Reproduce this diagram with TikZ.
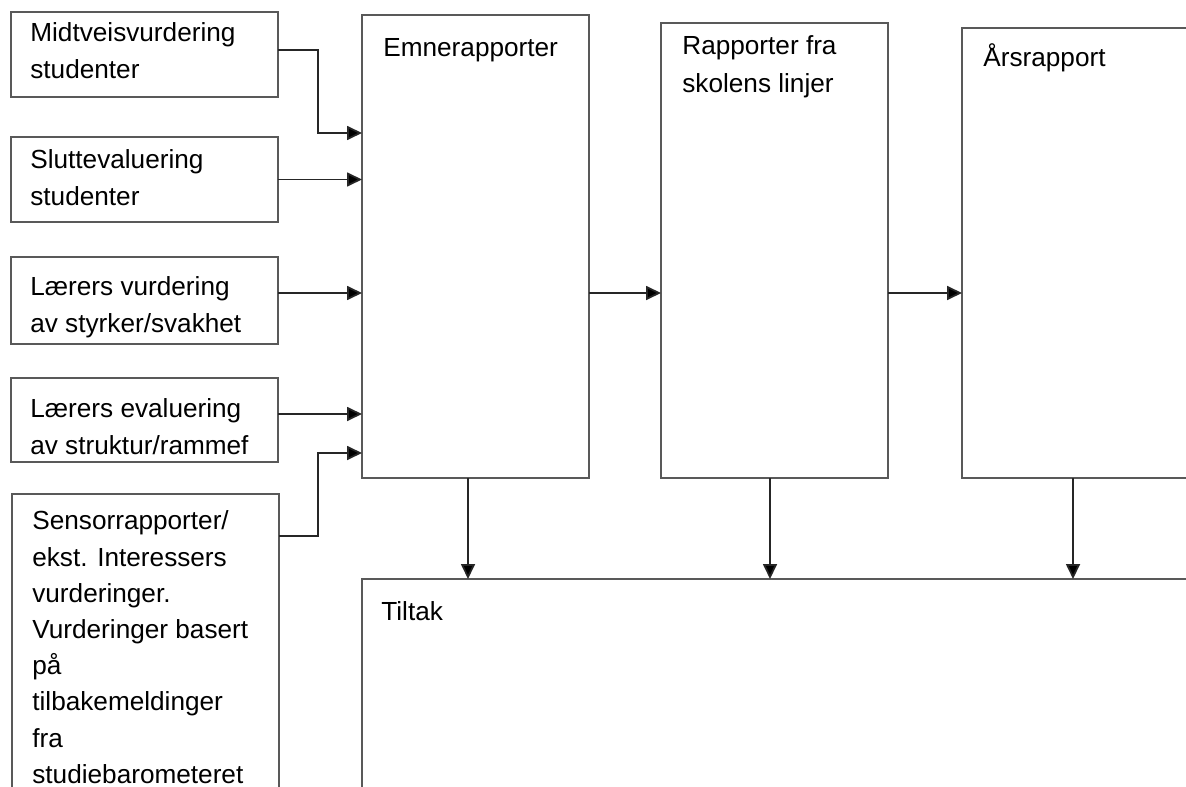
\documentclass[tikz,border=0pt]{standalone}
\usepackage{fontspec}
\setmainfont{Liberation Sans}
\usepackage{tikz}
\usetikzlibrary{arrows.meta,calc}
\tikzset{
	box/.style={
			draw=black!65, line width=0.04cm, inner sep=0pt, outer sep=0pt,
			anchor=north west, rectangle
		},
	txt/.style={
			font=\fontsize{14.9}{20.6}\selectfont, align=left,
			inner sep=0pt, anchor=north west, yshift=14.42pt,
			execute at begin node=\strut
		},
	arr/.style={
			draw=black!85, line width=0.035cm,
			-{Triangle[length=0.3cm, width=0.28cm, fill=black]}
		}
}

\begin{document}
\begin{tikzpicture}[x=0.02cm, y=-0.02cm]
        \useasboundingbox (0,0) rectangle (1186,787);
        \clip (0,0) rectangle (1186,787);

        % Input boxes
        \node[box, minimum width=267*0.02cm, minimum height=85*0.02cm] (b1) at (11,12) {};
        \node[box, minimum width=267*0.02cm, minimum height=85*0.02cm] (b2) at (11,137) {};
        \node[box, minimum width=267*0.02cm, minimum height=87*0.02cm] (b3) at (11,257) {};
        \node[box, minimum width=267*0.02cm, minimum height=84*0.02cm] (b4) at (11,378) {};
        \node[box, minimum width=267*0.02cm, minimum height=330*0.02cm] (b5) at (12,494) {};

        % Report boxes
        \node[box, minimum width=227*0.02cm, minimum height=463*0.02cm] (emne) at (362,15) {};
        \node[box, minimum width=227*0.02cm, minimum height=455*0.02cm] (linjer) at (661,23) {};
        \node[box, minimum width=260*0.02cm, minimum height=450*0.02cm] (aars) at (962,28) {};
        \node[box, minimum width=860*0.02cm, minimum height=260*0.02cm] (tiltak) at (362,579) {};

        % Labels (positions are first baselines)
        \node[txt] (t1) at (30,48) {Midtveisvurdering\\studenter};
        \node[txt] (t2) at (30,175) {Sluttevaluering\\studenter};
        \node[txt] (t3) at (30,302) {Lærers vurdering\\av styrker/svakhet};
        \node[txt] (t4) at (30,424) {Lærers evaluering\\av struktur/rammef};
        \node[txt] (t5) at (32,536) {Sensorrapporter/\\ekst. Interessers\\vurderinger.\\Vurderinger basert\\på\\tilbakemeldinger\\fra\\studiebarometeret};
        \node[txt] (te) at (383,56) {Emnerapporter};
        \node[txt, font=\fontsize{14.9}{22}\selectfont, yshift=0.98pt] (tl) at (682,62) {Rapporter fra\\skolens linjer};
        \node[txt] (ta) at (983,66) {Årsrapport};
        \node[txt] (tt) at (381,620) {Tiltak};

        % Inputs to Emnerapporter
        \draw[arr] (b1.east |- 0,50) -| (318,133) -- (emne.west |- 0,133);
        \draw[arr] (b2.east) -- (b2.east -| emne.west);
        \draw[arr] (b3.east |- 0,293) -- (emne.west |- 0,293);
        \draw[arr] (b4.east |- 0,414) -- (emne.west |- 0,414);
        \draw[arr] (b5.east |- 0,536) -| (318,453) -- (emne.west |- 0,453);

        % Report chain
        \draw[arr] (emne.east |- 0,293) -- (linjer.west |- 0,293);
        \draw[arr] (linjer.east |- 0,293) -- (aars.west |- 0,293);

        % Down to Tiltak
        \draw[arr] (468,0 |- emne.south) -- (468,0 |- tiltak.north);
        \draw[arr] (770,0 |- linjer.south) -- (770,0 |- tiltak.north);
        \draw[arr] (1073,0 |- aars.south) -- (1073,0 |- tiltak.north);

    \end{tikzpicture}
\end{document}
